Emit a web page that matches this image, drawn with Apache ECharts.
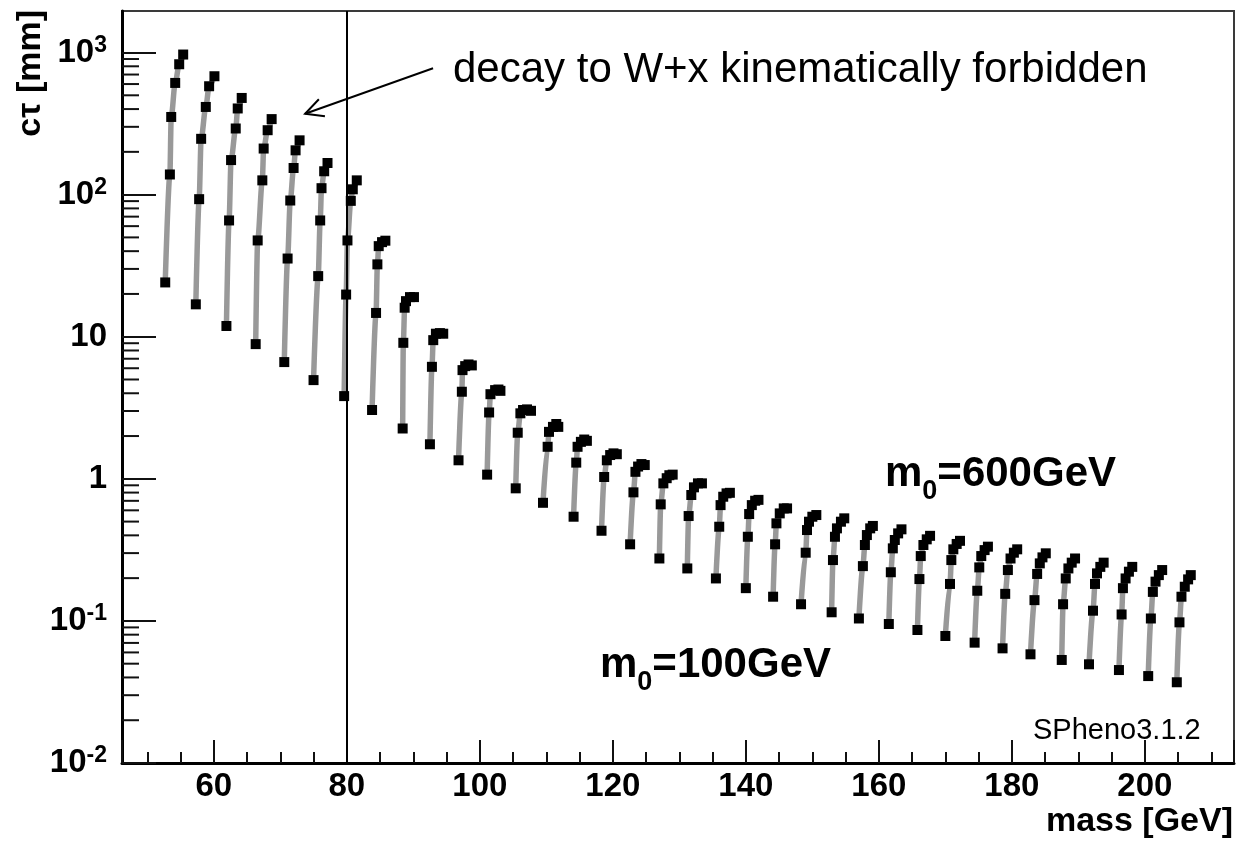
<!DOCTYPE html>
<html>
<head>
<meta charset="utf-8">
<title>c tau versus mass</title>
<script src="https://cdn.jsdelivr.net/npm/echarts@6.0.0/dist/echarts.min.js"></script>
<style>
  html, body { margin: 0; padding: 0; background: #fff; }
  #chart { width: 1240px; height: 844px; }
</style>
</head>
<body>
<div id="chart"></div>
<script>
const FONT = '"Liberation Sans", Arial, Helvetica, sans-serif';

// m0 scan values (black squares); one curve per gaugino mass point
const m0Values = [100, 200, 300, 400, 500, 600];

// mass [GeV] of each curve at the given m0
const mass100 = [52.7, 57.3, 61.9, 66.3, 70.6, 75.0, 79.6, 83.8, 88.4, 92.5, 96.8, 101.1, 105.4, 109.5, 114.1, 118.3, 122.6, 127.0, 131.2, 135.5, 140.0, 144.1, 148.3, 152.9, 157.0, 161.5, 165.8, 170.0, 174.4, 178.6, 182.8, 187.5, 191.6, 196.1, 200.5, 204.8];
const mass200 = [53.4, 57.8, 62.3, 66.6, 71.1, 75.7, 79.9, 84.4, 88.5, 92.8, 97.3, 101.4, 105.7, 110.2, 114.5, 118.7, 123.1, 127.2, 131.4, 136.0, 140.3, 144.4, 149.0, 153.1, 157.6, 161.8, 166.1, 170.7, 174.8, 179.0, 183.4, 187.7, 192.2, 196.5, 200.9, 205.2];
const mass300 = [53.6, 58.1, 62.6, 67.3, 71.5, 76.0, 80.1, 84.6, 88.7, 93.0, 97.4, 101.6, 106.1, 110.4, 114.7, 119.1, 123.4, 127.6, 131.8, 136.2, 140.5, 144.6, 149.2, 153.4, 157.9, 162.1, 166.3, 170.9, 175.1, 179.4, 183.8, 188.1, 192.5, 196.7, 201.2, 205.5];
const mass400 = [54.2, 58.8, 63.3, 67.5, 72.0, 76.2, 80.6, 84.8, 88.9, 93.4, 97.8, 102.3, 106.5, 111.0, 115.2, 119.6, 123.8, 128.1, 132.2, 136.6, 140.9, 145.1, 149.5, 153.7, 158.2, 162.4, 166.7, 171.2, 175.4, 179.8, 184.2, 188.5, 192.8, 197.1, 201.6, 206.0];
const mass500 = [54.8, 59.3, 63.6, 68.1, 72.3, 76.6, 80.9, 85.3, 89.5, 94.0, 98.3, 102.8, 107.1, 111.5, 115.7, 120.1, 124.3, 128.5, 132.8, 137.1, 141.4, 145.7, 150.0, 154.3, 158.7, 162.9, 167.2, 171.7, 175.9, 180.3, 184.6, 189.0, 193.3, 197.6, 202.1, 206.5];
const mass600 = [55.4, 60.1, 64.2, 68.7, 72.9, 77.1, 81.5, 85.8, 90.1, 94.5, 98.8, 103.1, 107.7, 111.8, 116.1, 120.6, 124.8, 129.0, 133.4, 137.6, 141.9, 146.2, 150.6, 154.8, 159.1, 163.4, 167.7, 172.2, 176.4, 180.8, 185.1, 189.5, 193.8, 198.1, 202.6, 206.9];

// c tau [mm] of each curve at the given m0
const ctau100 = [24.1, 16.9, 11.9, 8.87, 6.63, 4.95, 3.82, 3.05, 2.26, 1.75, 1.35, 1.07, 0.857, 0.678, 0.541, 0.431, 0.346, 0.275, 0.234, 0.199, 0.170, 0.148, 0.131, 0.115, 0.104, 0.0951, 0.0863, 0.0783, 0.0703, 0.0641, 0.0582, 0.0531, 0.0495, 0.0451, 0.0409, 0.0370];
const ctau200 = [138.6, 92.9, 65.8, 47.6, 35.5, 26.7, 19.8, 14.7, 9.06, 6.14, 4.10, 2.93, 2.11, 1.68, 1.30, 1.03, 0.803, 0.661, 0.547, 0.460, 0.391, 0.346, 0.302, 0.268, 0.243, 0.220, 0.197, 0.182, 0.163, 0.155, 0.140, 0.131, 0.118, 0.111, 0.104, 0.0977];
const ctau300 = [352, 247, 175, 126, 90.9, 65.8, 47.6, 32.3, 16.0, 9.46, 5.82, 3.94, 2.89, 2.14, 1.68, 1.35, 1.12, 0.929, 0.769, 0.653, 0.565, 0.486, 0.436, 0.391, 0.342, 0.324, 0.286, 0.268, 0.238, 0.228, 0.214, 0.199, 0.182, 0.170, 0.160, 0.148];
const ctau400 = [611, 414, 292, 211, 154, 111, 90.4, 43.4, 17.8, 10.5, 6.21, 4.21, 3.05, 2.32, 1.82, 1.47, 1.22, 1.01, 0.871, 0.748, 0.653, 0.571, 0.499, 0.448, 0.402, 0.371, 0.342, 0.319, 0.286, 0.275, 0.254, 0.234, 0.216, 0.199, 0.189, 0.174];
const ctau500 = [827, 579, 404, 284, 205, 146, 109, 46.3, 19.0, 10.6, 6.38, 4.25, 3.08, 2.43, 1.89, 1.51, 1.27, 1.06, 0.929, 0.790, 0.701, 0.619, 0.541, 0.499, 0.448, 0.413, 0.375, 0.348, 0.315, 0.302, 0.280, 0.257, 0.240, 0.222, 0.210, 0.196];
const ctau600 = [968, 681, 479, 340, 241, 167, 126, 47.4, 19.0, 10.5, 6.28, 4.16, 3.01, 2.32, 1.85, 1.49, 1.25, 1.07, 0.929, 0.797, 0.711, 0.619, 0.556, 0.527, 0.466, 0.441, 0.397, 0.366, 0.333, 0.319, 0.299, 0.275, 0.257, 0.240, 0.228, 0.210];

const massRows = [mass100, mass200, mass300, mass400, mass500, mass600];
const ctauRows = [ctau100, ctau200, ctau300, ctau400, ctau500, ctau600];

// axis ranges and annotations (data coordinates)
const xMin = 46.2, xMax = 213.4;
const yMin = 0.01, yMax = 1960;
const wThreshold = 80;
const arrowTail = [92.97, 775];
const arrowTip = [73.73, 371];

// minor ticks of the log axis: 2..9 x 10^k
const minorTickValues = [];
for (let e = -2; e <= 3; e++) {
  for (let k = 2; k <= 9; k++) {
    const v = k * Math.pow(10, e);
    if (v < yMax) minorTickValues.push(v);
  }
}

const columns = mass100.map((_, i) => m0Values.map((m0, j) => [massRows[j][i], ctauRows[j][i]]));

const chart = echarts.init(document.getElementById('chart'), null, { renderer: 'canvas' });

const columnSeries = columns.map((pts, i) => ({
  type: 'line',
  name: 'curve ' + (i + 1),
  data: pts,
  smooth: 0.3,
  smoothMonotone: 'x',
  symbol: 'rect',
  symbolSize: 10,
  showSymbol: true,
  lineStyle: { color: '#999', width: 5.5 },
  itemStyle: { color: '#000' },
  emphasis: { disabled: true },
  silent: true,
  z: 3
}));

columnSeries[0].markLine = {
  silent: true,
  symbol: 'none',
  label: { show: false },
  lineStyle: { color: '#000', width: 2, type: 'solid' },
  emphasis: { disabled: true },
  data: [{ xAxis: wThreshold }]
};

const option = {
  animation: false,
  backgroundColor: '#fff',
  grid: {
    left: 122, top: 11, width: 1112, height: 752,
    show: true, borderColor: '#3a3a3a', borderWidth: 2
  },
  xAxis: {
    type: 'value',
    min: xMin, max: xMax,
    splitNumber: 8,
    axisLine: { show: true, onZero: false, lineStyle: { color: '#000', width: 3 } },
    axisTick: { show: true, inside: true, length: 23, lineStyle: { color: '#111', width: 2 } },
    minorTick: { show: true, splitNumber: 4, length: 11, lineStyle: { color: '#111', width: 2 } },
    splitLine: { show: false },
    axisLabel: {
      margin: 7, showMinLabel: false, showMaxLabel: false,
      color: '#000', fontFamily: FONT, fontWeight: 'bold', fontSize: 33
    }
  },
  yAxis: {
    type: 'log', logBase: 10,
    min: yMin, max: yMax,
    axisLine: { show: true, onZero: false, lineStyle: { color: '#000', width: 3 } },
    axisTick: { show: true, inside: true, length: 34, lineStyle: { color: '#111', width: 2 } },
    splitLine: { show: false },
    axisLabel: {
      margin: 15, showMaxLabel: false, color: '#000',
      formatter: v => {
        const e = Math.round(Math.log10(v));
        if (e === 0) return '{b|1}';
        if (e === 1) return '{b|10}';
        return '{b|10}{s|' + e + '}';
      },
      rich: {
        b: { fontFamily: FONT, fontWeight: 'bold', fontSize: 33, lineHeight: 33, color: '#000', verticalAlign: 'bottom' },
        s: { fontFamily: FONT, fontWeight: 'bold', fontSize: 23, lineHeight: 23, color: '#000', padding: [0, 0, 12, 0], verticalAlign: 'bottom' }
      }
    }
  },
  graphic: [
    {
      type: 'text', x: 453, y: 70, silent: true,
      style: {
        text: 'decay to W+x kinematically forbidden',
        fontFamily: FONT, fontSize: 42, fill: '#000',
        align: 'left', verticalAlign: 'middle', textAlign: 'left', textVerticalAlign: 'middle'
      }
    },
    {
      type: 'text', x: 885, y: 453, silent: true,
      style: {
        text: '{b|m}{s|0}{b|=600GeV}',
        fill: '#000', align: 'left', verticalAlign: 'top', textAlign: 'left', textVerticalAlign: 'top',
        rich: {
          b: { fontFamily: FONT, fontWeight: 'bold', fontSize: 42, lineHeight: 42, verticalAlign: 'top' },
          s: { fontFamily: FONT, fontWeight: 'bold', fontSize: 27, lineHeight: 27, padding: [25, 0, 0, 0], verticalAlign: 'top' }
        }
      }
    },
    {
      type: 'text', x: 600, y: 644, silent: true,
      style: {
        text: '{b|m}{s|0}{b|=100GeV}',
        fill: '#000', align: 'left', verticalAlign: 'top', textAlign: 'left', textVerticalAlign: 'top',
        rich: {
          b: { fontFamily: FONT, fontWeight: 'bold', fontSize: 42, lineHeight: 42, verticalAlign: 'top' },
          s: { fontFamily: FONT, fontWeight: 'bold', fontSize: 27, lineHeight: 27, padding: [25, 0, 0, 0], verticalAlign: 'top' }
        }
      }
    },
    {
      type: 'text', x: 1033, y: 731, silent: true,
      style: {
        text: 'SPheno3.1.2',
        fontFamily: FONT, fontSize: 29, fill: '#000',
        align: 'left', verticalAlign: 'middle', textAlign: 'left', textVerticalAlign: 'middle'
      }
    },
    {
      type: 'text', x: 1233, y: 822, silent: true,
      style: {
        text: 'mass [GeV]',
        fontFamily: FONT, fontWeight: 'bold', fontSize: 34, fill: '#000',
        align: 'right', verticalAlign: 'middle', textAlign: 'right', textVerticalAlign: 'middle'
      }
    },
    {
      type: 'text', x: 31, y: 10, rotation: Math.PI / 2, silent: true,
      style: {
        text: 'c\u03c4 [mm]',
        fontFamily: FONT, fontWeight: 'bold', fontSize: 34, fill: '#000',
        align: 'right', verticalAlign: 'middle', textAlign: 'right', textVerticalAlign: 'middle'
      }
    }
  ],
  series: [
    ...columnSeries,
    {
      type: 'custom',
      name: 'minor ticks',
      data: minorTickValues.map(v => [xMin, v]),
      encode: { x: 0, y: 1 },
      clip: false,
      silent: true,
      z: 6,
      renderItem: (params, api) => {
        const p = api.coord([api.value(0), api.value(1)]);
        return {
          type: 'line',
          shape: { x1: p[0], y1: p[1], x2: p[0] + 17, y2: p[1] },
          style: { stroke: '#111', lineWidth: 2 }
        };
      }
    },
    {
      type: 'custom',
      name: 'arrow',
      data: [[arrowTail[0], arrowTail[1], arrowTip[0], arrowTip[1]]],
      encode: { x: [0, 2], y: [1, 3] },
      clip: false,
      silent: true,
      z: 6,
      renderItem: (params, api) => {
        const a = api.coord([api.value(0), api.value(1)]);
        const b = api.coord([api.value(2), api.value(3)]);
        const ang = Math.atan2(a[1] - b[1], a[0] - b[0]);
        const len = 20, spread = 0.47;
        const h1 = [b[0] + len * Math.cos(ang + spread), b[1] + len * Math.sin(ang + spread)];
        const h2 = [b[0] + len * Math.cos(ang - spread), b[1] + len * Math.sin(ang - spread)];
        return {
          type: 'group',
          children: [
            { type: 'line', shape: { x1: a[0], y1: a[1], x2: b[0], y2: b[1] }, style: { stroke: '#000', lineWidth: 2 } },
            { type: 'polyline', shape: { points: [h1, b, h2] }, style: { stroke: '#000', lineWidth: 2, fill: null } }
          ]
        };
      }
    }
  ]
};

chart.setOption(option);
</script>
</body>
</html>
